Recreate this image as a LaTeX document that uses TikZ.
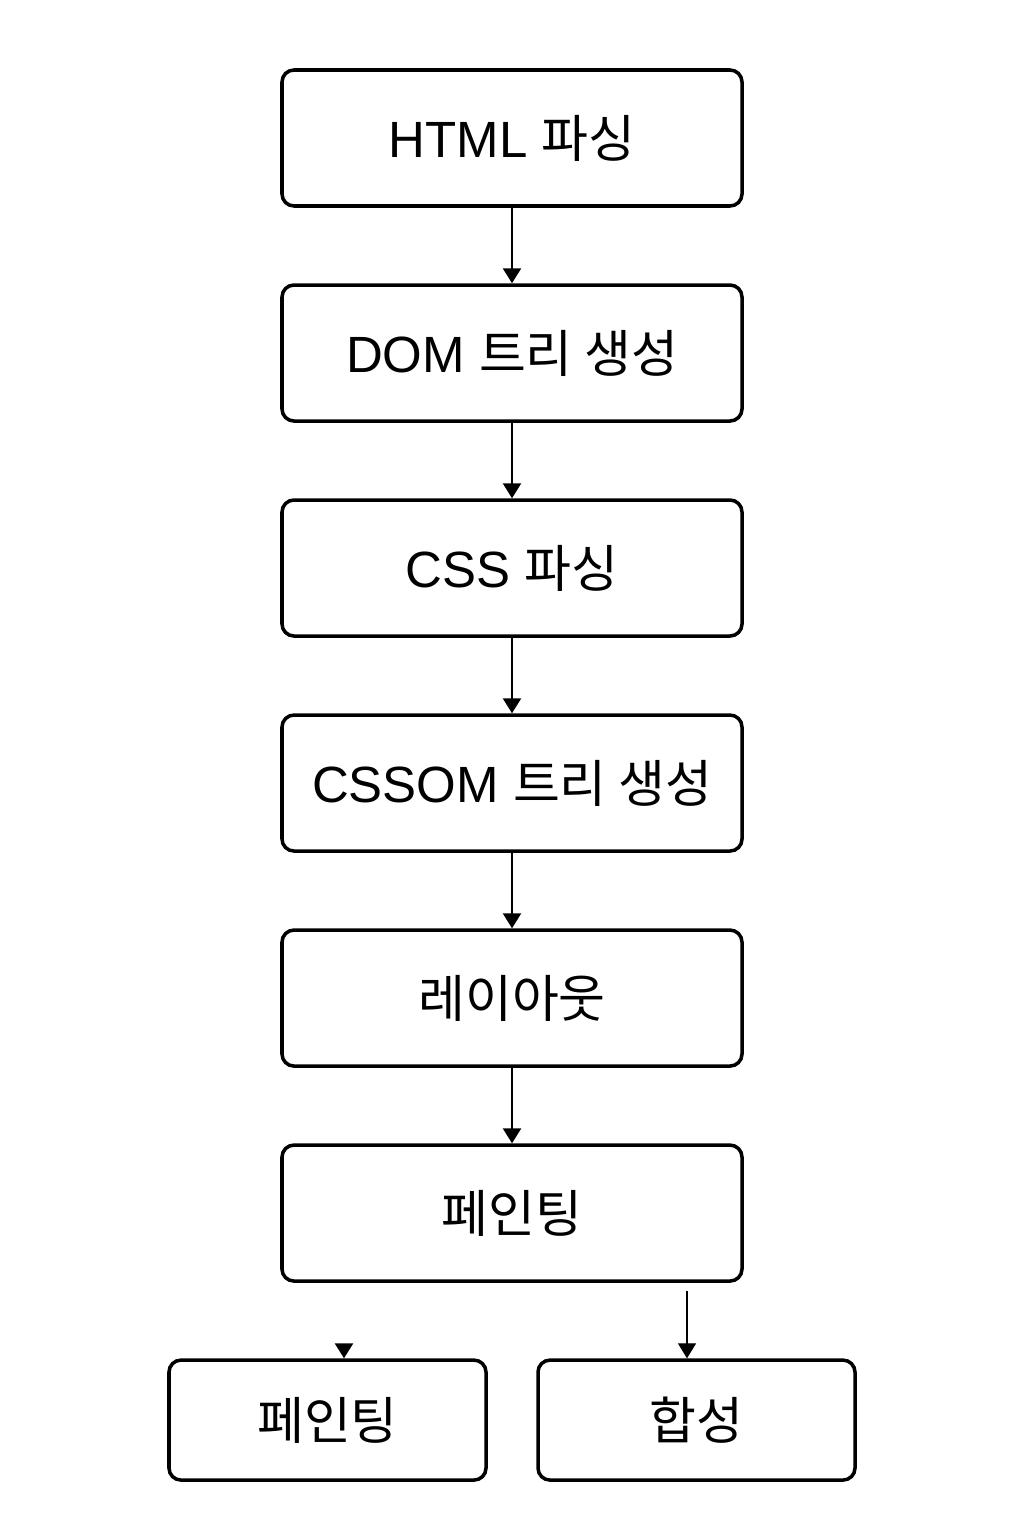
\documentclass[tikz,border=0pt]{standalone}
\usepackage{fontspec}
\setmainfont{Liberation Sans}
\newfontfamily\kr{Noto Sans CJK KR}
\usepackage{tikz}
\usetikzlibrary{positioning}
\usetikzlibrary{arrows.meta}
\tikzset{
  stage/.style = {draw=black, line width=2pt, rounded corners=0.24cm,
    minimum width=9.2cm, minimum height=2.72cm, align=center,
    inner sep=0pt, font=\fontsize{29}{34}\selectfont},% etape du rendu
  substage/.style = {stage, minimum width=6.34cm, minimum height=2.4cm},% etape finale
  flow/.style = {line width=1.4pt, -{Triangle[width=0.36cm,length=0.3cm]}},% fleche
  thinflow/.style = {flow, line width=0.7pt}% fleche fine
}
\begin{document}
\begin{tikzpicture}[node distance=1.51cm]
  \useasboundingbox (0,0) rectangle (20.48,-30.72);
  \node [stage] (html) at (10.24,-2.76) {HTML {\kr 파싱}};
  \node [stage, below=of html] (dom) {DOM {\kr 트리 생성}};
  \node [stage, below=of dom] (css) {CSS {\kr 파싱}};
  \node [stage, below=of css] (cssom) {CSSOM {\kr 트리 생성}};
  \node [stage, below=of cssom] (layout) {\kr 레이아웃};
  \node [stage, below=of layout] (paint) {\kr 페인팅};
  \node [substage, below=of paint, xshift=-3.69cm] (paintb) {\kr 페인팅};
  \node [substage, below=of paint, xshift=3.69cm] (comp) {\kr 합성};

  \draw [flow] (html) -- (dom);
  \draw [flow] (dom) -- (css);
  \draw [flow] (css) -- (cssom);
  \draw [flow] (cssom) -- (layout);
  \draw [flow] (layout) -- (paint);

  \coordinate (paintin) at ([xshift=0.33cm]paintb.north);
  \coordinate (compin) at ([xshift=-0.19cm]comp.north);
  \draw [flow] ([yshift=0.28cm]paintin) -- (paintin);
  \draw [thinflow] ([yshift=-0.16cm]paint.south -| compin) -- (compin);
\end{tikzpicture}
\end{document}
